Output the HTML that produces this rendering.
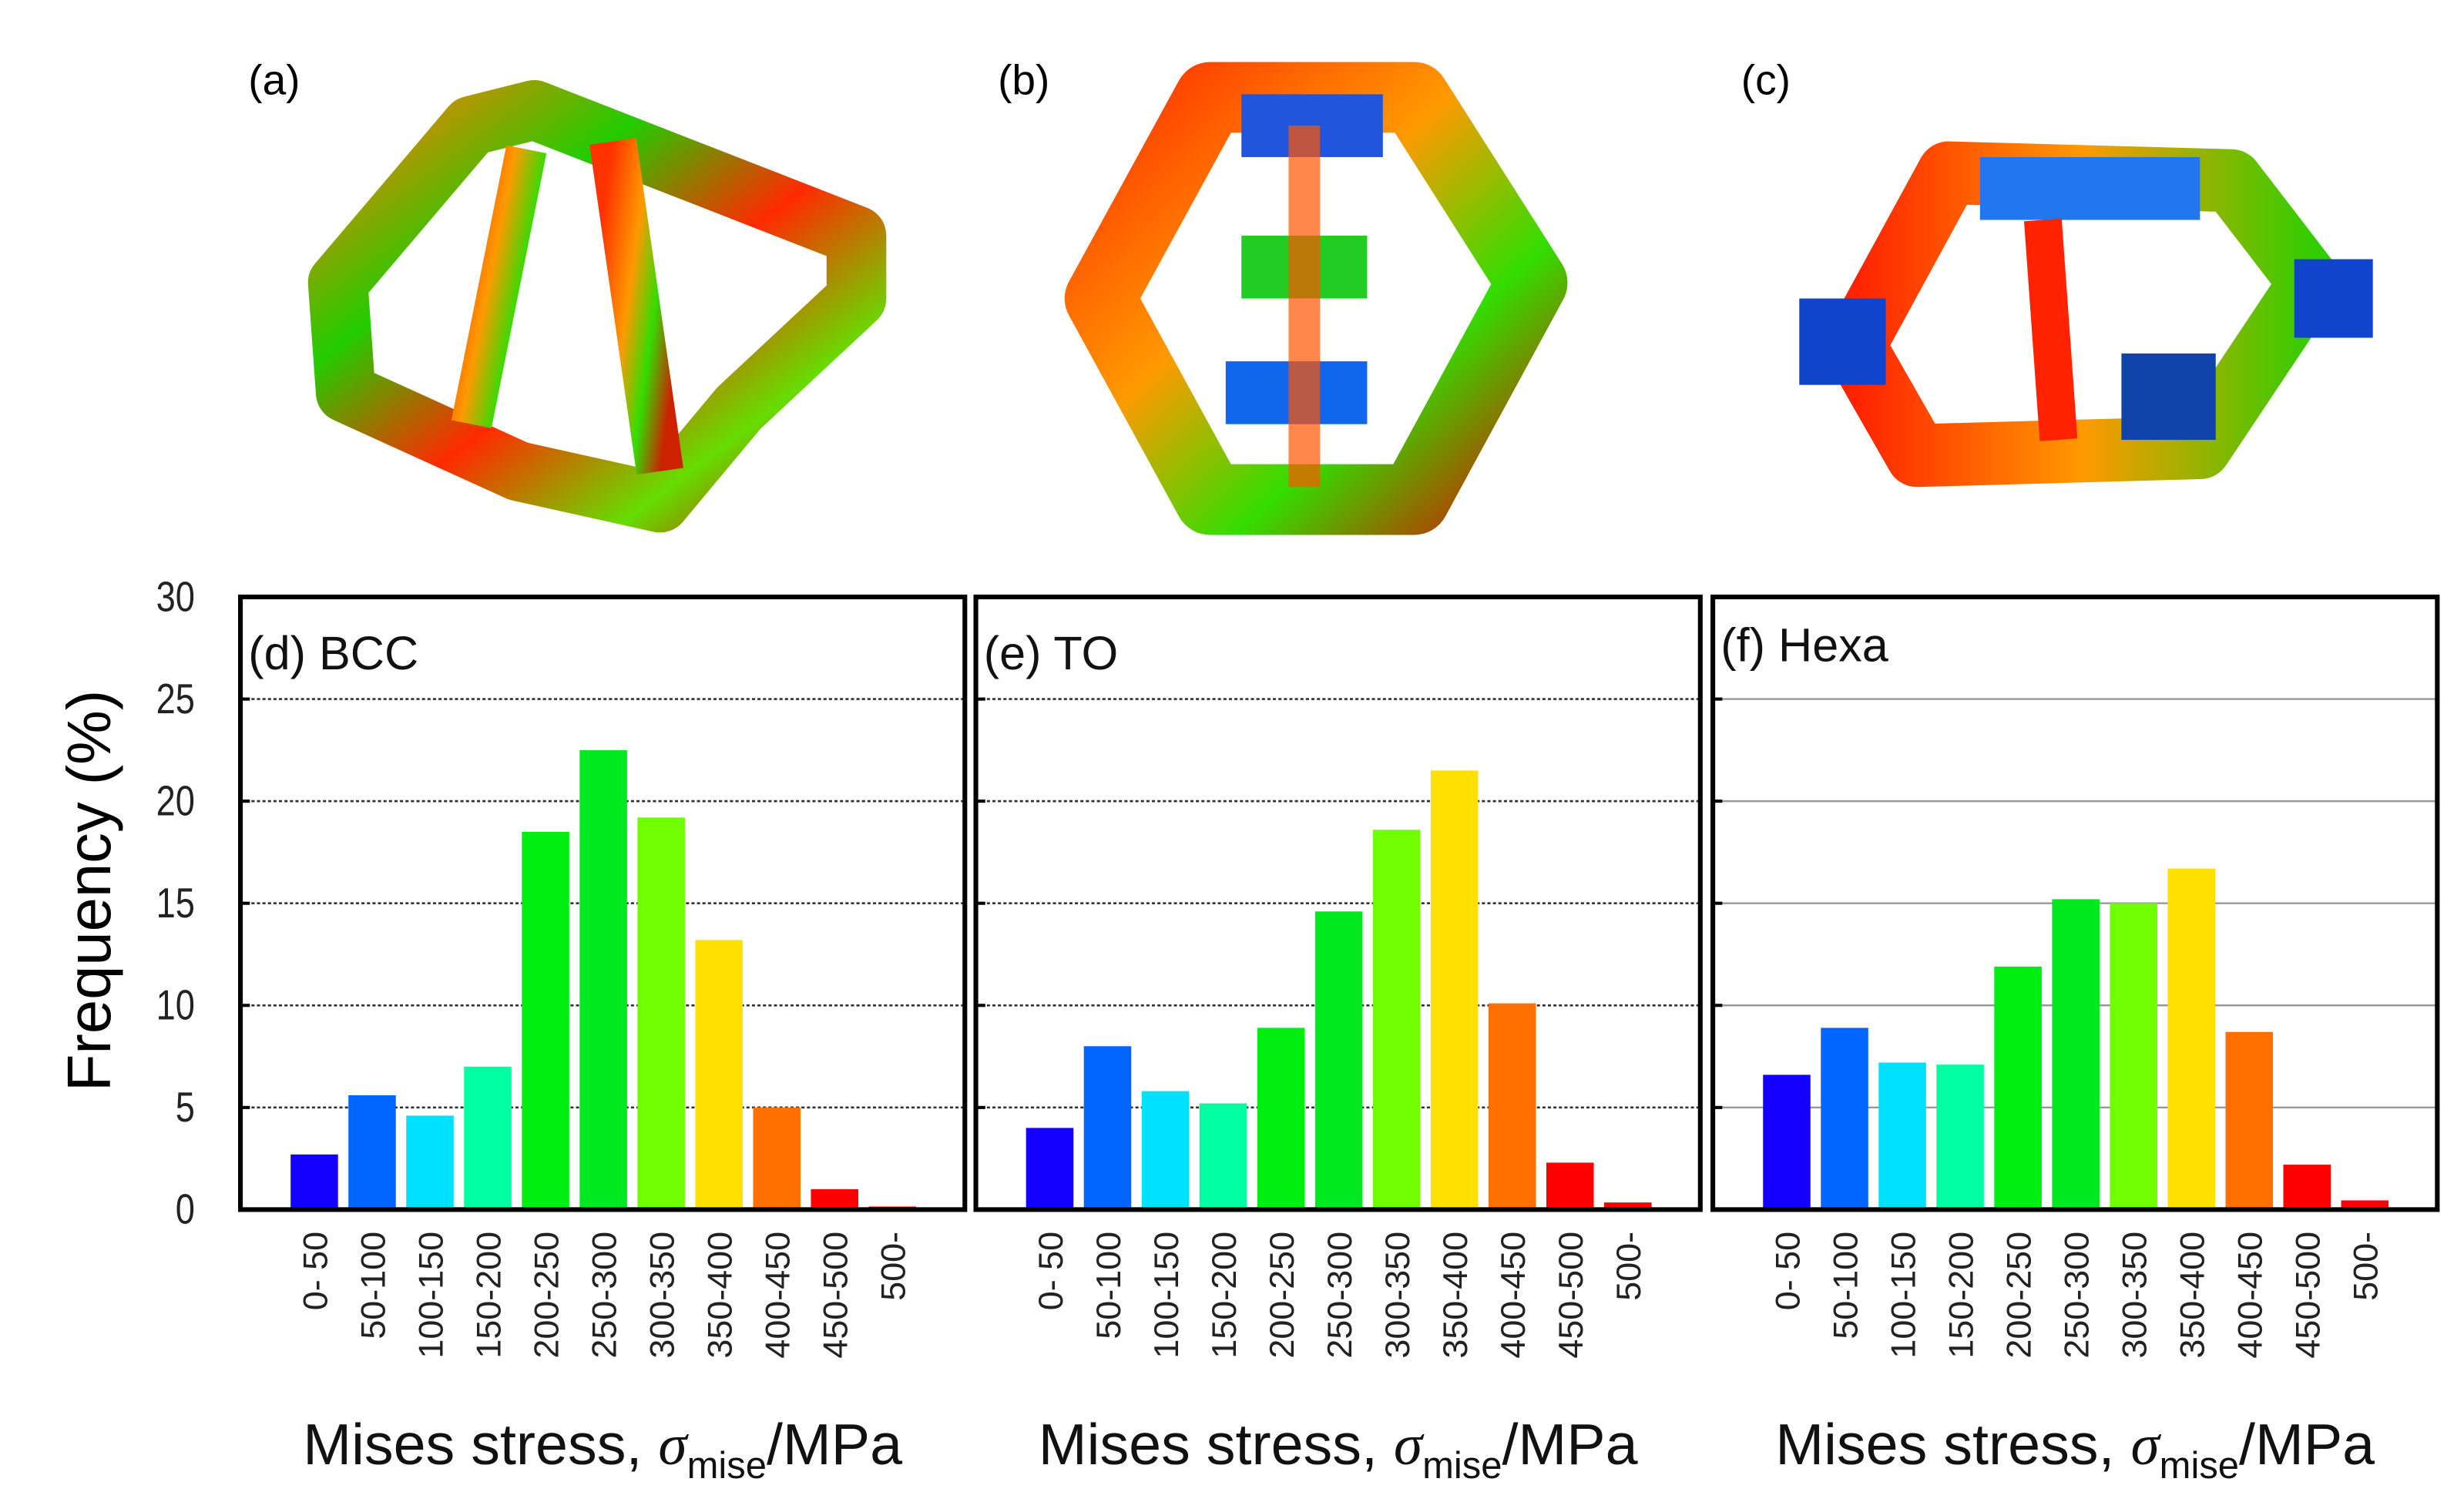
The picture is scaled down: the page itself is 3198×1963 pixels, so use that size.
<!DOCTYPE html>
<html><head><meta charset="utf-8"><style>
html,body{margin:0;padding:0;background:#fff}
svg{display:block}
text{font-family:"Liberation Sans",sans-serif}
</style></head><body>
<svg id="fig" width="3198" height="1963" viewBox="0 0 1568 962.5" preserveAspectRatio="none" xmlns="http://www.w3.org/2000/svg">
<defs>
<linearGradient id="ga" x1="0" y1="0" x2="1" y2="1"><stop offset="0" stop-color="#ff7a00"/><stop offset="0.3" stop-color="#22cc00"/><stop offset="0.55" stop-color="#ff2a00"/><stop offset="0.8" stop-color="#66dd00"/><stop offset="1" stop-color="#cc2200"/></linearGradient>
<linearGradient id="gb" x1="0" y1="0" x2="1" y2="1"><stop offset="0" stop-color="#ff3300"/><stop offset="0.4" stop-color="#ff9900"/><stop offset="0.7" stop-color="#33dd00"/><stop offset="1" stop-color="#cc2200"/></linearGradient>
<linearGradient id="gc" x1="0" y1="0" x2="1" y2="0"><stop offset="0" stop-color="#ff2200"/><stop offset="0.5" stop-color="#ff9900"/><stop offset="1" stop-color="#33cc00"/></linearGradient>
</defs>
<g>
<text x="158" y="60" font-size="27">(a)</text>
<polygon points="215,180 300,80 340,70 545,150 545,190 470,260 420,320 330,300 220,250" fill="none" stroke="url(#ga)" stroke-width="38" stroke-linejoin="round"/>
<line x1="390" y1="90" x2="420" y2="300" stroke="url(#gb)" stroke-width="30"/>
<line x1="335" y1="95" x2="300" y2="270" stroke="url(#gb)" stroke-width="26"/>
</g>
<g>
<text x="635" y="60" font-size="27">(b)</text>
<polygon points="770,62 900,62 975,180 900,318 770,318 700,190" fill="none" stroke="url(#gb)" stroke-width="45" stroke-linejoin="round"/>
<rect x="790" y="60" width="90" height="40" fill="#2255dd"/>
<rect x="790" y="150" width="80" height="40" fill="#22cc22"/>
<rect x="780" y="230" width="90" height="40" fill="#1166ee"/>
<line x1="830" y1="80" x2="830" y2="310" stroke="#ff5500" stroke-width="20" opacity="0.7"/>
</g>
<g>
<text x="1108" y="60" font-size="27">(c)</text>
<polygon points="1240,110 1420,115 1470,180 1400,285 1220,290 1180,220" fill="none" stroke="url(#gc)" stroke-width="40" stroke-linejoin="round"/>
<rect x="1260" y="100" width="140" height="40" fill="#2277ee"/>
<rect x="1145" y="190" width="55" height="55" fill="#1144cc"/>
<rect x="1460" y="165" width="50" height="50" fill="#1144cc"/>
<rect x="1350" y="225" width="60" height="55" fill="#1144aa"/>
<line x1="1300" y1="140" x2="1310" y2="280" stroke="#ff2200" stroke-width="24"/>
</g>
<g id="charts"></g>
<text transform="translate(70,567) rotate(-90)" text-anchor="middle" font-size="39">Frequency (%)</text>
</svg>
<script>
const categories=["0- 50","50-100","100-150","150-200","200-250","250-300","300-350","350-400","400-450","450-500","500-"];
const bccValues=[2.7,5.6,4.6,7.0,18.5,22.5,19.2,13.2,5.0,1.0,0.15];
const toValues=[4.0,8.0,5.8,5.2,8.9,14.6,18.6,21.5,10.1,2.3,0.35];
const hexaValues=[6.6,8.9,7.2,7.1,11.9,15.2,15.0,16.7,8.7,2.2,0.45];
const yTicks=[0,5,10,15,20,25,30];
const panelTitles=["(d) BCC","(e) TO","(f) Hexa"];
const barColors=["#1400ff","#0066ff","#00e0ff","#00ffa0","#00ee10","#00e820","#70ff00","#ffe000","#ff7000","#ff0000","#ff0000"];
const NS="http://www.w3.org/2000/svg";
const chartsG=document.getElementById('charts');
const series=[bccValues,toValues,hexaValues];
const panelLefts=[153,621,1090], panelW=461, plotTop=380, plotBottom=770;
function yS(v){return plotBottom-(v/30)*(plotBottom-plotTop);}
function mk(tag,attrs,parent){const e=document.createElementNS(NS,tag);for(const k in attrs)e.setAttribute(k,attrs[k]);(parent||chartsG).appendChild(e);return e;}
yTicks.forEach(t=>{
  const tx=mk('text',{x:124,y:yS(t)+9,'text-anchor':'end','font-size':'27',transform:'translate(124,0) scale(0.82,1) translate(-124,0)',fill:'#222'});
  tx.textContent=t;
  
  
});
series.forEach((vals,p)=>{
  const L=panelLefts[p];
  const pg=mk('g',{});
  
  
  yTicks.forEach(t=>{
    if(t===0||t===30)return;
    const ln=mk('line',{x1:L,x2:L+panelW,y1:yS(t),y2:yS(t),stroke:p===2?'#999':'#333','stroke-width':p===2?1.2:1.3,'stroke-dasharray':p===2?'none':'2,1.5'},pg);
    
    
    const tk=mk('line',{x1:L,x2:L+6,y1:yS(t),y2:yS(t),stroke:'#000','stroke-width':2},pg);
    
    
  });
  const pitch=panelW*0.0798, off=panelW*0.102, bw=pitch*0.82;
  vals.forEach((v,i)=>{
    const cx=L+off+i*pitch;
    const r=mk('rect',{x:cx-bw/2,y:yS(v),width:bw,height:plotBottom-yS(v),fill:barColors[i]},pg);
    
    
    const t=mk('text',{'text-anchor':'end','font-size':'22',transform:'translate('+(cx+8)+',784) rotate(-90)',fill:'#222'},pg);
    t.textContent=categories[i];
    
    
  });
  const fr=mk('rect',{x:L,y:plotTop,width:panelW,height:plotBottom-plotTop,fill:'none',stroke:'#000','stroke-width':3},pg);
  
  
  const ti=mk('text',{x:L+5,y:p===2?421:426,'font-size':'30',fill:'#111'},pg);
  ti.textContent=panelTitles[p];
  
  
  const xt=mk('text',{x:L+panelW/2,y:932,'text-anchor':'middle','font-size':'37',fill:'#111'},pg);
  
  
  xt.appendChild(document.createTextNode('Mises stress, '));
  const s1=mk('tspan',{'font-family':'Liberation Serif','font-style':'italic'},xt); s1.textContent='σ';
  
  
  const s2=mk('tspan',{'font-size':'24',dy:'9'},xt); s2.textContent='mise';
  
  
  const s3=mk('tspan',{dy:'-9'},xt); s3.textContent='/MPa';
  
  
});
</script>
</body></html>
